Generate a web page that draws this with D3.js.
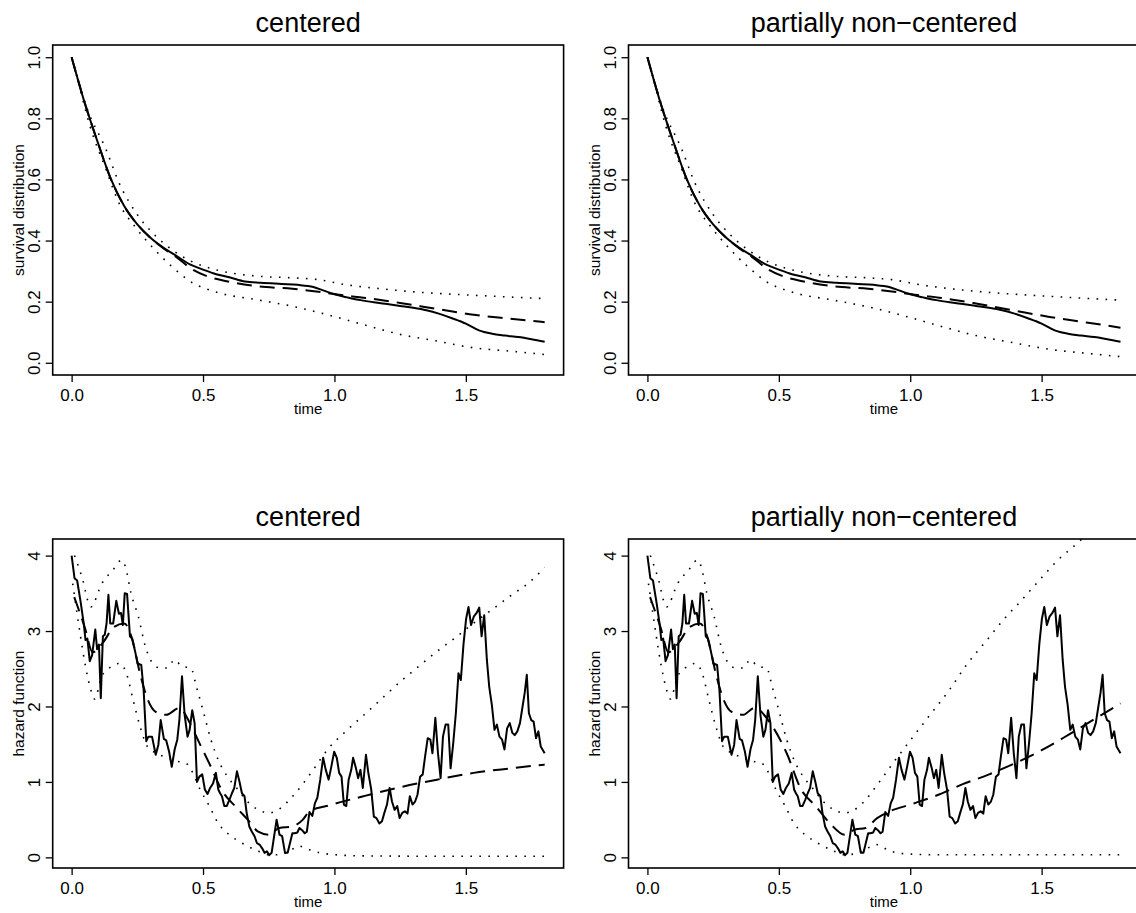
<!DOCTYPE html>
<html>
<head>
<meta charset="utf-8">
<script src="https://cdn.jsdelivr.net/npm/d3@7"></script>
<style>
  body { margin: 0; background: #fff; }
  text { font-family: "Liberation Sans", Arial, Helvetica, sans-serif; fill: #000; }
</style>
</head>
<body>
<svg id="chart" width="1136" height="913"></svg>
<script>
// ---- data ----
const timeTicks = [0, 0.5, 1.0, 1.5];
const survTicks = [0, 0.2, 0.4, 0.6, 0.8, 1.0];
const hazTicks = [0, 1, 2, 3, 4];

// survival, posterior estimate (same in both panels)
const survSolid = [[0,1.0],[0.05,0.85],[0.1,0.72],[0.15,0.6],[0.2,0.513],[0.25,0.453],[0.3,0.409],
  [0.35,0.376],[0.4,0.349],[0.45,0.322],[0.5,0.305],[0.55,0.29],[0.6,0.28],[0.66,0.266],[0.72,0.262],
  [0.8,0.258],[0.86,0.255],[0.92,0.248],[0.96,0.236],[1.0,0.224],[1.05,0.214],[1.1,0.205],[1.15,0.198],
  [1.2,0.192],[1.25,0.186],[1.3,0.18],[1.35,0.172],[1.4,0.16],[1.45,0.145],[1.5,0.128],[1.55,0.106],
  [1.6,0.095],[1.65,0.089],[1.7,0.084],[1.75,0.077],[1.8,0.069]];

const survDashC = [[0,1.0],[0.05,0.85],[0.1,0.72],[0.15,0.6],[0.2,0.513],[0.25,0.453],[0.3,0.409],
  [0.35,0.374],[0.4,0.345],[0.46,0.305],[0.52,0.282],[0.59,0.267],[0.7,0.251],[0.84,0.242],[0.95,0.231],
  [1.04,0.22],[1.11,0.213],[1.25,0.196],[1.39,0.176],[1.53,0.157],[1.67,0.144],[1.8,0.133]];
const survDashP = [[0,1.0],[0.05,0.85],[0.1,0.72],[0.15,0.6],[0.2,0.513],[0.25,0.453],[0.3,0.409],
  [0.35,0.374],[0.4,0.345],[0.46,0.305],[0.52,0.282],[0.59,0.267],[0.7,0.251],[0.84,0.242],[0.95,0.231],
  [1.04,0.22],[1.11,0.213],[1.25,0.194],[1.39,0.172],[1.53,0.15],[1.67,0.132],[1.8,0.115]];

const survUpC = [[0,1.0],[0.06,0.83],[0.13,0.70],[0.18,0.59],[0.25,0.485],[0.32,0.415],[0.39,0.365],
  [0.46,0.33],[0.56,0.302],[0.7,0.284],[0.84,0.278],[0.93,0.273],[1.04,0.256],[1.18,0.242],
  [1.32,0.231],[1.46,0.224],[1.6,0.218],[1.8,0.21]];
const survUpP = [[0,1.0],[0.06,0.83],[0.13,0.70],[0.18,0.59],[0.25,0.485],[0.32,0.415],[0.39,0.365],
  [0.46,0.33],[0.56,0.302],[0.7,0.284],[0.84,0.278],[0.93,0.272],[1.04,0.255],[1.18,0.24],
  [1.32,0.229],[1.46,0.221],[1.6,0.214],[1.8,0.205]];

const survLoC = [[0,1.0],[0.02,0.937],[0.07,0.774],[0.13,0.635],[0.18,0.523],[0.24,0.447],[0.31,0.376],
  [0.38,0.316],[0.45,0.267],[0.56,0.229],[0.7,0.207],[0.84,0.185],[0.97,0.158],[1.11,0.125],
  [1.25,0.093],[1.39,0.071],[1.53,0.049],[1.67,0.038],[1.8,0.027]];
const survLoP = [[0,1.0],[0.02,0.937],[0.07,0.774],[0.13,0.635],[0.18,0.523],[0.24,0.447],[0.31,0.376],
  [0.38,0.316],[0.45,0.267],[0.56,0.229],[0.7,0.206],[0.84,0.183],[0.97,0.155],[1.11,0.121],
  [1.25,0.089],[1.39,0.066],[1.53,0.044],[1.67,0.031],[1.8,0.02]];

// hazard, posterior estimate (same in both panels)
const hazSolid = [[0.000,4.00],[0.011,3.70],[0.021,3.67],[0.035,3.37],[0.046,3.10],[0.053,2.88],[0.060,2.90],
  [0.069,2.60],[0.078,2.68],[0.090,3.02],[0.097,2.76],[0.104,2.82],[0.111,2.11],[0.119,2.93],[0.126,2.95],
  [0.133,3.10],[0.140,3.48],[0.147,3.10],[0.158,3.10],[0.170,3.40],[0.180,3.23],[0.188,3.24],[0.195,3.08],
  [0.202,3.50],[0.211,3.49],[0.222,2.93],[0.230,2.90],[0.241,2.74],[0.251,2.57],[0.265,2.55],[0.274,2.22],
  [0.284,1.54],[0.292,1.60],[0.306,1.60],[0.320,1.36],[0.330,1.49],[0.339,1.82],[0.351,1.57],[0.360,1.55],
  [0.371,1.40],[0.381,1.20],[0.392,1.43],[0.402,1.56],[0.410,1.82],[0.420,2.40],[0.430,1.89],[0.441,1.60],
  [0.449,1.69],[0.459,1.95],[0.468,1.78],[0.477,1.00],[0.486,1.07],[0.497,1.10],[0.507,0.90],[0.517,0.84],
  [0.527,0.92],[0.538,0.98],[0.549,1.12],[0.558,0.90],[0.565,0.85],[0.572,0.81],[0.581,0.68],[0.590,0.68],
  [0.600,0.76],[0.610,0.85],[0.619,0.92],[0.629,1.14],[0.639,1.00],[0.648,0.85],[0.658,0.81],[0.666,0.59],
  [0.676,0.41],[0.686,0.34],[0.696,0.28],[0.705,0.19],[0.715,0.17],[0.725,0.12],[0.734,0.06],[0.743,0.08],
  [0.752,0.03],[0.761,0.06],[0.780,0.50],[0.791,0.30],[0.801,0.28],[0.812,0.06],[0.822,0.06],[0.831,0.19],
  [0.840,0.32],[0.849,0.32],[0.859,0.33],[0.867,0.39],[0.877,0.36],[0.887,0.32],[0.895,0.34],[0.905,0.60],
  [0.916,0.55],[0.926,0.72],[0.935,0.79],[0.946,1.03],[0.957,1.32],[0.967,1.16],[0.978,1.03],[0.988,1.20],
  [0.999,1.40],[1.009,1.32],[1.018,1.12],[1.027,1.07],[1.036,0.70],[1.045,0.68],[1.054,1.03],[1.064,1.16],
  [1.071,1.32],[1.082,1.18],[1.090,1.05],[1.099,1.16],[1.108,0.92],[1.120,1.36],[1.129,1.12],[1.140,0.90],
  [1.150,0.54],[1.160,0.52],[1.171,0.45],[1.181,0.48],[1.190,0.59],[1.200,0.70],[1.210,0.92],[1.219,0.74],
  [1.229,0.63],[1.239,0.68],[1.248,0.52],[1.258,0.59],[1.268,0.61],[1.278,0.58],[1.287,0.81],[1.297,0.70],
  [1.307,0.74],[1.316,0.83],[1.326,1.07],[1.336,1.10],[1.345,1.34],[1.355,1.58],[1.365,1.56],[1.373,1.38],
  [1.384,1.85],[1.394,1.38],[1.404,1.05],[1.413,1.60],[1.423,1.76],[1.433,1.76],[1.442,1.18],[1.452,1.51],
  [1.462,1.91],[1.472,2.44],[1.481,2.35],[1.491,2.82],[1.501,3.16],[1.510,3.32],[1.520,3.08],[1.530,3.19],
  [1.541,3.24],[1.551,3.31],[1.560,2.93],[1.570,3.21],[1.580,2.62],[1.589,2.26],[1.599,2.02],[1.609,1.69],
  [1.618,1.76],[1.628,1.60],[1.638,1.56],[1.647,1.43],[1.657,1.71],[1.667,1.78],[1.677,1.65],[1.686,1.62],
  [1.696,1.67],[1.706,1.78],[1.715,1.98],[1.724,2.18],[1.732,2.42],[1.740,1.91],[1.749,1.82],[1.758,1.80],
  [1.767,1.58],[1.776,1.67],[1.785,1.47],[1.800,1.38]];

const hazDashC = [[0.01,3.45],[0.05,3.05],[0.08,2.72],[0.12,2.85],[0.16,3.05],[0.2,3.1],[0.23,2.9],
  [0.26,2.44],[0.29,2.09],[0.32,1.93],[0.36,1.89],[0.41,1.98],[0.45,1.78],[0.48,1.56],[0.53,1.2],
  [0.57,0.9],[0.63,0.65],[0.67,0.5],[0.71,0.34],[0.75,0.3],[0.79,0.39],[0.84,0.41],[0.88,0.5],
  [0.905,0.61],[0.97,0.68],[1.11,0.81],[1.25,0.93],[1.39,1.03],[1.53,1.12],[1.67,1.18],[1.8,1.23]];
const hazDashP = [[0.01,3.45],[0.05,3.05],[0.08,2.72],[0.12,2.85],[0.16,3.05],[0.2,3.1],[0.23,2.9],
  [0.26,2.44],[0.29,2.09],[0.32,1.93],[0.365,1.89],[0.406,1.98],[0.475,1.74],[0.53,1.38],[0.585,0.9],
  [0.64,0.68],[0.695,0.45],[0.75,0.3],[0.79,0.37],[0.83,0.39],[0.874,0.52],[0.915,0.6],[1.0,0.7],
  [1.1,0.82],[1.2,0.97],[1.3,1.1],[1.4,1.25],[1.5,1.42],[1.6,1.62],[1.7,1.83],[1.8,2.04]];

const hazUpC = [[0.011,4.0],[0.039,3.72],[0.073,3.32],[0.115,3.63],[0.157,3.81],[0.19,3.94],[0.205,3.85],
  [0.226,3.5],[0.254,3.19],[0.281,2.79],[0.309,2.57],[0.337,2.51],[0.364,2.51],[0.392,2.62],[0.42,2.53],
  [0.454,2.51],[0.475,2.26],[0.503,1.91],[0.53,1.56],[0.558,1.29],[0.593,1.07],[0.628,0.92],[0.669,0.74],
  [0.711,0.63],[0.752,0.59],[0.794,0.65],[0.836,0.79],[0.877,0.96],[0.919,1.16],[0.974,1.43],[1.043,1.67],
  [1.113,1.89],[1.182,2.11],[1.251,2.33],[1.32,2.53],[1.39,2.73],[1.459,2.91],[1.528,3.1],[1.598,3.28],
  [1.667,3.46],[1.736,3.63],[1.8,3.84]];
const hazUpP = [[0.011,4.0],[0.039,3.72],[0.073,3.32],[0.115,3.63],[0.157,3.81],[0.19,3.94],[0.205,3.85],
  [0.226,3.5],[0.254,3.19],[0.281,2.79],[0.309,2.57],[0.337,2.51],[0.364,2.51],[0.392,2.62],[0.42,2.53],
  [0.454,2.51],[0.475,2.26],[0.503,1.91],[0.53,1.56],[0.558,1.29],[0.593,1.07],[0.628,0.92],[0.669,0.74],
  [0.711,0.63],[0.75,0.59],[0.777,0.61],[0.819,0.72],[0.874,0.96],[0.943,1.29],[1.011,1.6],[1.08,1.91],
  [1.149,2.22],[1.218,2.57],[1.287,2.86],[1.355,3.15],[1.424,3.41],[1.493,3.68],[1.562,3.94],[1.644,4.19],
  [1.72,4.45],[1.8,4.7]];

const hazLoC = [[0.004,3.63],[0.015,3.37],[0.032,2.97],[0.053,2.53],[0.073,2.22],[0.087,2.1],[0.115,2.4],
  [0.143,2.51],[0.184,2.57],[0.212,2.4],[0.233,2.1],[0.26,1.74],[0.288,1.47],[0.323,1.38],[0.364,1.32],
  [0.406,1.27],[0.434,1.25],[0.461,1.12],[0.489,0.9],[0.524,0.68],[0.558,0.45],[0.593,0.32],[0.628,0.23],
  [0.669,0.15],[0.711,0.08],[0.752,0.035],[0.794,0.035],[0.836,0.1],[0.863,0.15],[0.905,0.1],[0.946,0.06],
  [1.0,0.035],[1.11,0.02],[1.39,0.015],[1.8,0.015]];
const hazLoP = [[0.004,3.63],[0.015,3.37],[0.032,2.97],[0.053,2.53],[0.073,2.22],[0.087,2.1],[0.115,2.4],
  [0.143,2.51],[0.184,2.57],[0.212,2.4],[0.233,2.1],[0.26,1.74],[0.288,1.47],[0.323,1.38],[0.364,1.32],
  [0.406,1.27],[0.434,1.25],[0.461,1.12],[0.489,0.9],[0.524,0.68],[0.558,0.45],[0.593,0.32],[0.628,0.23],
  [0.669,0.15],[0.711,0.08],[0.752,0.035],[0.794,0.05],[0.836,0.12],[0.87,0.17],[0.92,0.09],[0.97,0.05],
  [1.1,0.035],[1.4,0.035],[1.8,0.035]];

// ---- drawing ----
const svg = d3.select('#chart');
const fmt1 = d3.format('.1f');
let clipCount = 0;

function drawPanel(cfg) {
  const x = d3.scaleLinear().domain([-0.072, 1.872]).range([cfg.left, cfg.right]);
  const y = d3.scaleLinear().domain(cfg.yDomain).range([cfg.bottom, cfg.top]);
  const g = svg.append('g');

  const clipId = 'clip' + (clipCount++);
  svg.append('clipPath').attr('id', clipId)
      .append('rect')
      .attr('x', cfg.left).attr('y', cfg.top)
      .attr('width', cfg.right - cfg.left).attr('height', cfg.bottom - cfg.top);

  const plot = g.append('g').attr('clip-path', `url(#${clipId})`);

  cfg.series.forEach(s => {
    const line = d3.line()
        .x(d => x(d[0]))
        .y(d => y(d[1]))
        .curve(s.smooth ? d3.curveMonotoneX : d3.curveLinear);
    plot.append('path')
        .datum(s.data)
        .attr('fill', 'none')
        .attr('stroke', '#000')
        .attr('stroke-width', s.width)
        .attr('stroke-dasharray', s.dash || null)
        .attr('stroke-linejoin', 'round')
        .attr('d', line);
  });

  // x axis
  const xAxis = d3.axisBottom(x).tickValues(timeTicks).tickFormat(fmt1).tickSize(7);
  const xg = g.append('g').attr('transform', `translate(0,${cfg.bottom})`).call(xAxis);
  xg.select('.domain').remove();
  xg.selectAll('line').attr('stroke', '#000').attr('stroke-width', 1.3);
  xg.selectAll('text').attr('font-size', 17).attr('font-family', null).attr('y', 14);

  // y axis, labels rotated like R's default las = 0
  const yAxis = d3.axisLeft(y).tickValues(cfg.yTicks).tickFormat(cfg.yFormat).tickSize(7);
  const yg = g.append('g').attr('transform', `translate(${cfg.left},0)`).call(yAxis);
  yg.select('.domain').remove();
  yg.selectAll('line').attr('stroke', '#000').attr('stroke-width', 1.3);
  yg.selectAll('text')
      .attr('font-size', 17).attr('font-family', null)
      .attr('x', null).attr('dy', null)
      .attr('text-anchor', 'middle')
      .attr('transform', 'translate(-12.5,0) rotate(-90)');

  // box
  g.append('rect')
      .attr('x', cfg.left).attr('y', cfg.top)
      .attr('width', cfg.right - cfg.left).attr('height', cfg.bottom - cfg.top)
      .attr('fill', 'none').attr('stroke', '#000').attr('stroke-width', 1.6);

  const cx = (cfg.left + cfg.right) / 2;
  g.append('text')
      .attr('x', cx).attr('y', cfg.top - 13)
      .attr('text-anchor', 'middle').attr('font-size', 27)
      .text(cfg.title);

  g.append('text')
      .attr('x', cx).attr('y', cfg.bottom + 39)
      .attr('text-anchor', 'middle').attr('font-size', 15)
      .text('time');

  g.append('text')
      .attr('transform', `translate(${cfg.left - 29},${(cfg.top + cfg.bottom) / 2}) rotate(-90)`)
      .attr('text-anchor', 'middle').attr('font-size', 15.5)
      .text(cfg.yLabel);
}

const solidW = 2, dashW = 2, dotW = 1.6;
const dashPat = '15,8', dotPat = '1.6,7.4';
const leftCol = [52.7, 563.6], rightCol = [628.5, 1139.4];

const panels = [
  {left: leftCol[0], right: leftCol[1], top: 45, bottom: 375, yDomain: [-0.04, 1.04], yTicks: survTicks, yFormat: fmt1,
   title: 'centered', yLabel: 'survival distribution',
   series: [
     {data: survUpC, width: dotW, dash: dotPat, smooth: true},
     {data: survLoC, width: dotW, dash: dotPat, smooth: true},
     {data: survDashC, width: dashW, dash: dashPat, smooth: true},
     {data: survSolid, width: solidW, smooth: true}]},
  {left: rightCol[0], right: rightCol[1], top: 45, bottom: 375, yDomain: [-0.04, 1.04], yTicks: survTicks, yFormat: fmt1,
   title: 'partially non\u2212centered', yLabel: 'survival distribution',
   series: [
     {data: survUpP, width: dotW, dash: dotPat, smooth: true},
     {data: survLoP, width: dotW, dash: dotPat, smooth: true},
     {data: survDashP, width: dashW, dash: dashPat, smooth: true},
     {data: survSolid, width: solidW, smooth: true}]},
  {left: leftCol[0], right: leftCol[1], top: 539, bottom: 868, yDomain: [-0.141, 4.22], yTicks: hazTicks, yFormat: d3.format('d'),
   title: 'centered', yLabel: 'hazard function',
   series: [
     {data: hazUpC, width: dotW, dash: dotPat, smooth: true},
     {data: hazLoC, width: dotW, dash: dotPat, smooth: true},
     {data: hazDashC, width: dashW, dash: dashPat, smooth: true},
     {data: hazSolid, width: solidW, smooth: false}]},
  {left: rightCol[0], right: rightCol[1], top: 539, bottom: 868, yDomain: [-0.141, 4.22], yTicks: hazTicks, yFormat: d3.format('d'),
   title: 'partially non\u2212centered', yLabel: 'hazard function',
   series: [
     {data: hazUpP, width: dotW, dash: dotPat, smooth: true},
     {data: hazLoP, width: dotW, dash: dotPat, smooth: true},
     {data: hazDashP, width: dashW, dash: dashPat, smooth: true},
     {data: hazSolid, width: solidW, smooth: false}]}
];

panels.forEach(drawPanel);
</script>
</body>
</html>
